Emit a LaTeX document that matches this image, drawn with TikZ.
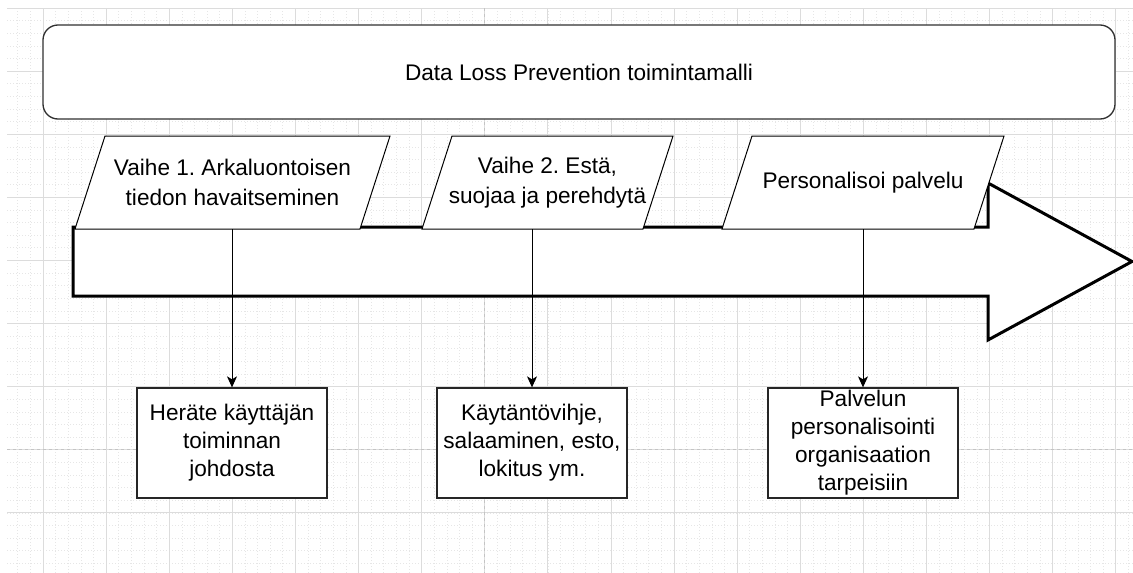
\documentclass[tikz,border=0pt]{standalone}
\usepackage{fontspec}
\setmainfont{Liberation Sans}
\usetikzlibrary{arrows.meta}
\frenchspacing

\definecolor{gridmajor}{HTML}{DCDCDC}
\definecolor{gridminor}{HTML}{E6E6E6}
\definecolor{pagebreak}{HTML}{C4C4C4}
\definecolor{framegray}{HTML}{303030}

\tikzset{
  grid major/.style={draw=gridmajor, line width=0.8pt},
  grid minor/.style={draw=gridminor, line width=0.6pt, dash pattern=on 1.2pt off 1.8pt},
  page break/.style={draw=pagebreak, line width=0.8pt, dash pattern=on 3pt off 3pt},
  title box/.style={draw=framegray, line width=1.3pt, rounded corners=15pt, fill=white,
    minimum width=1072pt, minimum height=94pt, inner sep=0pt,
    font=\fontsize{22.6}{28}\selectfont},
  phase shape/.style={draw=black, line width=1pt, fill=white, line join=miter},
  phase label/.style={inner sep=0pt, minimum height=93pt, align=center,
    font=\fontsize{22.6}{29.5}\selectfont},
  result box/.style={draw=black!85, line width=1.3pt, fill=white,
    minimum width=190pt, minimum height=110pt, inner sep=0pt, align=center,
    font=\fontsize{22.6}{28}\selectfont},
  flow arrow/.style={draw=black, line width=3pt, fill=white, line join=miter},
  conn/.style={draw=black, line width=1pt, -{Stealth[length=11pt, width=10pt, inset=3pt]}},
}

% parallelogram with its label: name, centre x, mid width, text
\newcommand\phasebox[4]{%
  \path[phase shape] ({#2-#3/2-15},229) -- ({#2+#3/2-15},229)
    -- ({#2+#3/2+15},136) -- ({#2-#3/2+15},136) -- cycle;
  \node[phase label, minimum width=#3pt] (#1) at (#2,182.5) {#4};
}

\begin{document}
\begin{tikzpicture}[x=1pt, y=-1pt]
  \useasboundingbox[fill=white] (0,0) rectangle (1133,573);

  % canvas grid
  \foreach \k in {-2,...,86}
    \draw[grid minor] ({43+12.62*\k},8) -- ({43+12.62*\k},573);
  \foreach \k in {1,...,44}
    \draw[grid minor] (7,{8+12.62*\k}) -- (1133,{8+12.62*\k});
  \foreach \k in {0,...,17}
    \draw[grid major] ({43+63.1*\k},8) -- ({43+63.1*\k},573);
  \foreach \k in {0,...,8}
    \draw[grid major] (7,{8+63.1*\k}) -- (1133,{8+63.1*\k});
  \draw[page break] (484.7,8) -- (484.7,573);
  \draw[page break] (7,449.7) -- (1133,449.7);

  % heading
  \node[title box] (title) at (579,72) {Data Loss Prevention toimintamalli};

  % process arrow
  \path[flow arrow] (73,227) -- (988,227) -- (988,183) -- (1132,261.5)
    -- (988,340) -- (988,296) -- (73,296) -- cycle;

  % phases
  \phasebox{p1}{232.5}{285}{Vaihe 1. Arkaluontoisen\\tiedon havaitseminen}
  \phasebox{p2}{547.5}{221}{Vaihe 2. Estä,\\suojaa ja perehdytä}
  \phasebox{p3}{863}{252}{Personalisoi palvelu}

  % outcomes
  \node[result box] (b1) at (232,443) {Heräte käyttäjän\\toiminnan\\johdosta};
  \node[result box] (b2) at (532,443) {Käytäntövihje,\\salaaminen, esto,\\lokitus ym.};
  \node[result box] (b3) at (863,443) {Palvelun\\personalisointi\\organisaation\\tarpeisiin};

  \draw[conn] (b1.north |- p1.south) -- (b1.north);
  \draw[conn] (b2.north |- p2.south) -- (b2.north);
  \draw[conn] (b3.north |- p3.south) -- (b3.north);
\end{tikzpicture}
\end{document}
